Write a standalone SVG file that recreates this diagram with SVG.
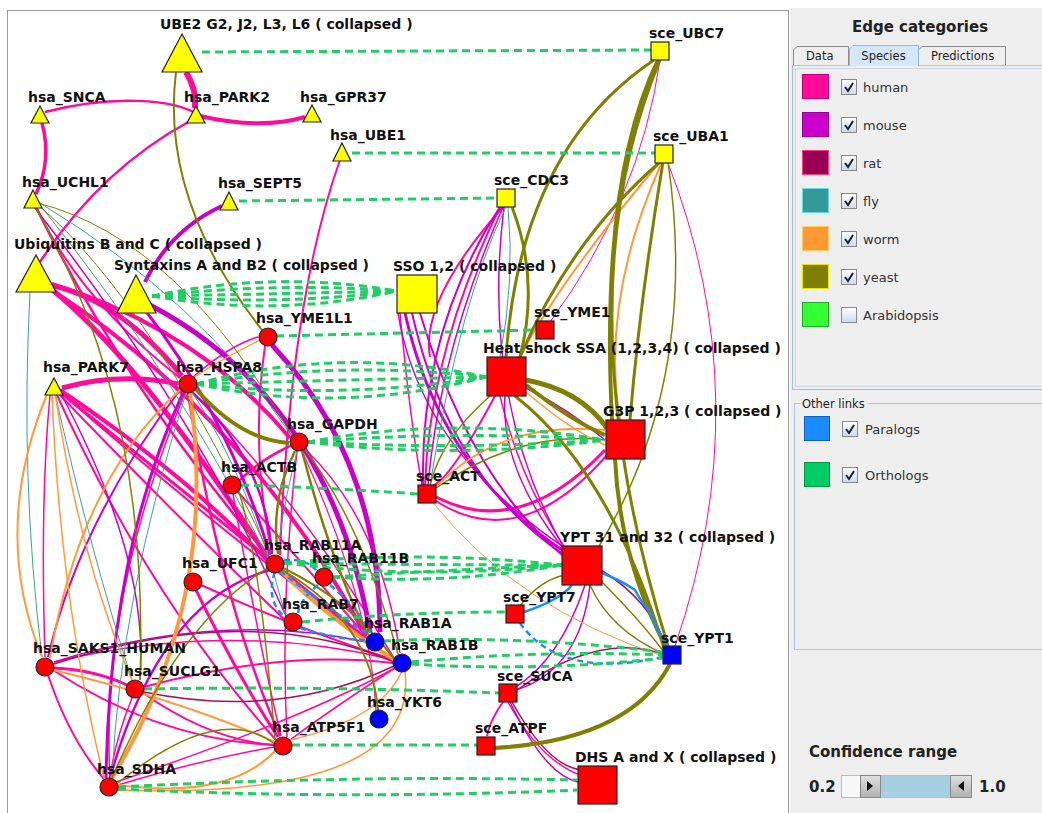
<svg xmlns="http://www.w3.org/2000/svg" width="1042" height="813" viewBox="0 0 1042 813">
<style>
.lbl{font-family:"DejaVu Sans",sans-serif;font-weight:bold;font-size:14px;fill:#111}
.e{fill:none}
.hu{stroke:#ff0a9a}.mo{stroke:#c800c8}.ra{stroke:#a0145a}.fl{stroke:#3aa0a0}.wo{stroke:#ff9a3c}.ye{stroke:#808000}
.or{fill:none;stroke:#22cc66;stroke-width:3;stroke-dasharray:8 5}
.pa{fill:none;stroke:#1a8cff;stroke-width:2.5;stroke-dasharray:6 4}
.pas{fill:none;stroke:#1a8cff;stroke-width:2.5}
.n{stroke:#222;stroke-width:1.2}
.y{fill:#ffff00}.r{fill:#ff0000}.b{fill:#0000ff}
.ui{font-family:"DejaVu Sans",sans-serif;font-size:13px;fill:#333}
.tab{font-family:"DejaVu Sans",sans-serif;font-size:11.5px;fill:#222}
.uib{font-family:"DejaVu Sans",sans-serif;font-weight:bold;font-size:15px;fill:#222}
.cb{fill:url(#cbg);stroke:#888}
.ck{fill:none;stroke:#222;stroke-width:2}
</style>
<defs>
<linearGradient id="cbg" x1="0" y1="0" x2="0" y2="1"><stop offset="0" stop-color="#ffffff"/><stop offset="1" stop-color="#c9d9ee"/></linearGradient>
<linearGradient id="thumb" x1="0" y1="0" x2="0" y2="1"><stop offset="0" stop-color="#e0e0e0"/><stop offset="1" stop-color="#b0b0b0"/></linearGradient>
</defs>
<rect x="0" y="0" width="1042" height="813" fill="#ffffff"/>
<rect x="790" y="8" width="252" height="805" fill="#eeeeee"/>
<rect x="7.5" y="10.5" width="781" height="810" fill="#ffffff" stroke="#999999"/>

<g id="connectors">
<!-- human -->
<path class="e hu" stroke-width="2.5" d="M45,112 C110,95 175,98 200,116"/>
<path class="e hu" stroke-width="4" d="M200,116 Q260,130 305,117"/>
<path class="e hu" stroke-width="6" d="M186,72 Q197,90 195,108"/>
<path class="e hu" stroke-width="2.5" d="M190,121 Q100,170 40,262"/>
<path class="e hu" stroke-width="3.5" d="M42,123 Q52,160 36,194"/>
<path class="e hu" stroke-width="2" d="M340,160 Q290,300 280,555"/>
<path class="e hu" stroke-width="2" d="M36,207 Q80,300 180,378"/>
<path class="e hu" stroke-width="2.5" d="M36,207 Q120,380 268,556"/>
<path class="e hu" stroke-width="5" d="M50,285 Q120,300 182,376"/>
<path class="e hu" stroke-width="5" d="M50,288 Q140,360 268,558"/>
<path class="e hu" stroke-width="4" d="M52,284 Q200,330 290,438"/>
<path class="e hu" stroke-width="4" d="M52,290 Q250,420 366,636"/>
<path class="e hu" stroke-width="5" d="M62,388 Q120,372 178,384"/>
<path class="e hu" stroke-width="4" d="M60,390 Q180,470 267,560"/>
<path class="e hu" stroke-width="3" d="M60,392 Q220,520 366,638"/>
<path class="e hu" stroke-width="2" d="M60,392 Q230,540 394,660"/>
<path class="e hu" stroke-width="2" d="M56,393 Q150,600 276,740"/>
<path class="e hu" stroke-width="2" d="M58,393 Q180,520 285,620"/>
<path class="e hu" stroke-width="2.5" d="M188,393 Q220,600 280,736"/>
<path class="e hu" stroke-width="1.5" d="M185,393 Q100,600 110,778"/>
<path class="e hu" stroke-width="1.5" d="M192,392 Q300,500 394,658"/>
<path class="e hu" stroke-width="1.5" d="M193,377 Q230,345 258,337"/>
<path class="e hu" stroke-width="2" d="M265,346 Q250,450 272,554"/>
<path class="e hu" stroke-width="2.5" d="M290,446 Q260,460 240,480"/>
<path class="e hu" stroke-width="1.5" d="M305,449 Q380,520 400,653"/>
<path class="e hu" stroke-width="1.2" d="M302,451 Q370,600 376,710"/>
<path class="e hu" stroke-width="2" d="M238,492 Q300,560 366,636"/>
<path class="e hu" stroke-width="1.5" d="M233,494 Q260,650 281,736"/>
<path class="e hu" stroke-width="3" d="M196,590 Q240,680 278,737"/>
<path class="e hu" stroke-width="2" d="M201,585 Q300,630 394,660"/>
<path class="e hu" stroke-width="3" d="M54,668 Q95,670 127,685"/>
<path class="e hu" stroke-width="1.5" d="M54,662 Q230,620 394,660"/>
<path class="e hu" stroke-width="2" d="M53,670 Q160,740 274,745"/>
<path class="e hu" stroke-width="2" d="M48,675 Q70,740 104,779"/>
<path class="e hu" stroke-width="2" d="M144,687 Q280,650 393,663"/>
<path class="e hu" stroke-width="2" d="M143,693 Q210,740 274,745"/>
<path class="e hu" stroke-width="1.5" d="M132,698 Q115,740 110,778"/>
<path class="e hu" stroke-width="1.5" d="M118,785 Q200,760 274,747"/>
<path class="e hu" stroke-width="1.5" d="M116,782 Q300,720 395,668"/>
<path class="e hu" stroke-width="1.5" d="M395,668 Q330,710 290,740"/>
<path class="e hu" stroke-width="1.5" d="M45,657 Q40,500 50,395"/>
<path class="e hu" stroke-width="1.5" d="M297,451 Q280,600 287,737"/>
<!-- right human -->
<path class="e hu" stroke-width="1" d="M660,60 Q640,200 550,322"/>
<path class="e hu" stroke-width="1" d="M668,163 Q760,400 675,646"/>
<path class="e hu" stroke-width="3" d="M605,450 Q520,540 436,497"/>
<path class="e hu" stroke-width="2" d="M607,455 Q520,555 436,501"/>
<path class="e hu" stroke-width="2" d="M495,396 Q450,480 432,486"/>
<path class="e hu" stroke-width="1.5" d="M400,313 Q410,420 422,485"/>
<path class="e hu" stroke-width="2" d="M500,207 Q430,350 425,485"/>
<path class="e hu" stroke-width="1.5" d="M500,396 Q520,480 565,548"/>
<path class="e hu" stroke-width="2" d="M503,207 Q420,300 430,357"/>
<path class="e hu" stroke-width="1.5" d="M508,702 Q540,760 580,775"/>
<path class="e hu" stroke-width="2" d="M503,702 Q490,720 487,736"/>
<!-- mouse -->
<path class="e mo" stroke-width="4" d="M222,206 Q170,230 145,282"/>
<path class="e mo" stroke-width="5" d="M150,305 Q330,400 370,632"/>
<path class="e mo" stroke-width="3" d="M145,310 Q230,420 270,555"/>
<path class="e mo" stroke-width="5" d="M272,345 Q380,460 380,632"/>
<path class="e mo" stroke-width="3" d="M183,393 Q110,550 106,778"/>
<path class="e mo" stroke-width="2" d="M180,390 Q80,520 48,657"/>
<path class="e mo" stroke-width="2.5" d="M192,392 Q265,460 272,554"/>
<path class="e mo" stroke-width="2.5" d="M110,778 Q160,600 270,570"/>
<path class="e mo" stroke-width="1.5" d="M54,662 Q220,610 366,642"/>
<path class="e mo" stroke-width="1.5" d="M60,392 Q150,560 140,680"/>
<path class="e mo" stroke-width="1.5" d="M35,208 Q200,420 285,614"/>
<path class="e mo" stroke-width="3" d="M405,313 Q440,470 565,552"/>
<path class="e mo" stroke-width="2" d="M412,313 Q450,480 566,556"/>
<path class="e mo" stroke-width="2" d="M420,313 Q470,480 568,560"/>
<path class="e mo" stroke-width="1.5" d="M398,313 Q420,450 565,548"/>
<path class="e mo" stroke-width="2" d="M500,207 Q420,330 423,485"/>
<path class="e mo" stroke-width="1.5" d="M503,207 Q440,350 428,485"/>
<path class="e mo" stroke-width="1.5" d="M504,207 Q480,400 565,550"/>
<path class="e mo" stroke-width="1.5" d="M585,585 Q560,660 514,688"/>
<path class="e mo" stroke-width="1.5" d="M590,585 Q580,670 516,690"/>
<path class="e mo" stroke-width="1.5" d="M510,702 Q545,775 578,782"/>
<path class="e mo" stroke-width="1.5" d="M526,388 Q570,410 605,440"/>
<path class="e mo" stroke-width="1.5" d="M505,396 Q500,470 566,552"/>
<!-- rat -->
<path class="e ra" stroke-width="1.5" d="M54,664 Q250,600 394,662"/>
<path class="e ra" stroke-width="1.5" d="M144,692 Q280,720 394,666"/>
<path class="e ra" stroke-width="1.5" d="M517,690 Q600,630 665,655"/>
<path class="e ra" stroke-width="1.5" d="M601,570 Q650,600 667,648"/>
<path class="e ra" stroke-width="1.5" d="M512,702 Q550,770 585,770"/>
<!-- fly -->
<path class="e fl" stroke-width="1" d="M40,205 Q180,380 268,558"/>
<path class="e fl" stroke-width="1" d="M40,203 Q200,300 292,436"/>
<path class="e fl" stroke-width="1" d="M186,393 Q120,600 112,778"/>
<path class="e fl" stroke-width="1" d="M55,393 Q90,550 132,680"/>
<path class="e fl" stroke-width="1" d="M297,451 Q280,520 278,554"/>
<path class="e fl" stroke-width="1" d="M506,207 Q460,300 430,485"/>
<path class="e fl" stroke-width="1" d="M508,207 Q515,280 500,357"/>
<path class="e fl" stroke-width="1" d="M192,392 Q250,480 285,614"/>
<path class="e fl" stroke-width="1" d="M30,292 Q20,480 42,657"/>
<!-- worm -->
<path class="e wo" stroke-width="2" d="M48,392 Q-10,530 42,657"/>
<path class="e wo" stroke-width="1.5" d="M52,393 Q60,600 104,778"/>
<path class="e wo" stroke-width="1.5" d="M55,393 Q80,560 132,680"/>
<path class="e wo" stroke-width="4" d="M190,393 Q220,600 112,778"/>
<path class="e wo" stroke-width="2" d="M180,390 Q80,480 50,658"/>
<path class="e wo" stroke-width="1.5" d="M260,340 Q220,360 193,378"/>
<path class="e wo" stroke-width="4" d="M280,570 Q330,620 395,660"/>
<path class="e wo" stroke-width="2" d="M53,670 Q180,700 275,742"/>
<path class="e wo" stroke-width="2" d="M118,785 Q230,800 276,750"/>
<path class="e wo" stroke-width="1.5" d="M290,740 Q380,720 402,671"/>
<path class="e wo" stroke-width="1.5" d="M118,790 Q420,800 405,671"/>
<path class="e wo" stroke-width="2" d="M660,162 Q560,280 520,357"/>
<path class="e wo" stroke-width="2" d="M662,162 Q600,300 620,420"/>
<path class="e wo" stroke-width="2" d="M605,430 Q500,420 435,488"/>
<path class="e wo" stroke-width="1" d="M433,503 Q520,610 663,656"/>
<path class="e wo" stroke-width="1.5" d="M526,392 Q570,430 605,445"/>
<!-- yeast -->
<path class="e ye" stroke-width="2" d="M176,72 Q160,200 262,330"/>
<path class="e ye" stroke-width="1" d="M38,205 Q150,300 270,555"/>
<path class="e ye" stroke-width="1" d="M38,203 Q180,240 292,436"/>
<path class="e ye" stroke-width="1.5" d="M35,207 Q150,400 140,680"/>
<path class="e ye" stroke-width="4" d="M195,388 Q240,440 289,443"/>
<path class="e ye" stroke-width="2.5" d="M295,451 Q270,500 278,554"/>
<path class="e ye" stroke-width="2.5" d="M302,451 Q330,560 368,635"/>
<path class="e ye" stroke-width="1.5" d="M305,450 Q360,520 398,654"/>
<path class="e ye" stroke-width="2" d="M282,570 Q370,620 378,710"/>
<path class="e ye" stroke-width="2" d="M283,568 Q350,600 395,660"/>
<path class="e ye" stroke-width="1.5" d="M118,783 Q220,700 276,745"/>
<path class="e ye" stroke-width="1.5" d="M112,778 Q180,620 268,568"/>
<path class="e ye" stroke-width="1.5" d="M239,492 Q260,560 275,740"/>
<path class="e ye" stroke-width="3" d="M654,60 Q520,150 506,357"/>
<path class="e ye" stroke-width="4" d="M658,60 Q600,180 612,420"/>
<path class="e ye" stroke-width="3" d="M660,60 Q560,300 668,646"/>
<path class="e ye" stroke-width="3" d="M660,162 Q570,240 520,357"/>
<path class="e ye" stroke-width="3" d="M663,162 Q640,300 630,420"/>
<path class="e ye" stroke-width="1.5" d="M668,162 Q700,380 598,548"/>
<path class="e ye" stroke-width="3" d="M512,207 Q540,280 520,357"/>
<path class="e ye" stroke-width="5" d="M526,380 Q580,390 607,428"/>
<path class="e ye" stroke-width="4" d="M526,385 Q570,420 605,435"/>
<path class="e ye" stroke-width="4" d="M615,459 Q620,560 666,647"/>
<path class="e ye" stroke-width="3" d="M515,396 Q610,470 664,648"/>
<path class="e ye" stroke-width="1.5" d="M600,580 Q640,620 664,652"/>
<path class="e ye" stroke-width="1.5" d="M520,606 Q540,580 565,575"/>
<path class="e ye" stroke-width="4" d="M670,664 Q630,740 495,748"/>
<path class="e ye" stroke-width="1.5" d="M490,396 Q440,440 430,486"/>
<path class="e ye" stroke-width="1.5" d="M605,440 Q520,430 436,488"/>
<path class="e ye" stroke-width="1.5" d="M590,585 Q610,630 664,654"/>
<!-- paralogs -->
<path class="pa" d="M275,572 Q265,600 285,617"/>
<path class="pa" d="M284,560 Q305,558 316,570"/>
<path class="pa" d="M318,585 Q300,600 298,613"/>
<path class="pa" d="M300,628 Q340,640 366,640"/>
<path class="pa" d="M330,585 Q360,610 370,633"/>
<path class="pa" d="M280,571 Q330,610 368,634"/>
<path class="pas" d="M602,573 Q620,580 635,590 Q640,600 650,612 Q655,628 668,646"/>
<path class="pas" d="M524,612 Q560,600 572,585"/>
<path class="pa" d="M520,623 Q560,680 663,657"/>
<!-- orthologs -->
<path class="or" d="M202,52 L651,50"/>
<path class="or" d="M352,153 L655,153"/>
<path class="or" d="M239,201 L497,198"/>
<path class="or" d="M152,296 Q277,270 397,291"/>
<path class="or" d="M152,296 Q277,282 397,291"/>
<path class="or" d="M152,296 Q277,294 397,291"/>
<path class="or" d="M152,296 Q277,306 397,291"/>
<path class="or" d="M152,296 Q277,318 397,291"/>
<path class="or" d="M276,336 L536,330"/>
<path class="or" d="M196,384 Q340,345 486,377"/>
<path class="or" d="M196,384 Q340,360 486,377"/>
<path class="or" d="M196,384 Q340,380 486,377"/>
<path class="or" d="M196,384 Q340,400 486,377"/>
<path class="or" d="M196,384 Q340,415 486,377"/>
<path class="or" d="M307,442 Q456,415 605,440"/>
<path class="or" d="M307,442 Q456,430 605,440"/>
<path class="or" d="M307,442 Q456,450 605,440"/>
<path class="or" d="M307,442 Q456,460 605,440"/>
<path class="or" d="M241,485 Q330,488 418,494"/>
<path class="or" d="M284,563 Q420,550 562,565"/>
<path class="or" d="M284,563 Q420,565 562,565"/>
<path class="or" d="M284,563 Q420,580 562,565"/>
<path class="or" d="M332,577 Q450,570 562,565"/>
<path class="or" d="M332,577 Q450,585 562,565"/>
<path class="or" d="M302,622 Q400,612 506,612"/>
<path class="or" d="M383,641 Q520,635 663,652"/>
<path class="or" d="M411,662 Q540,650 663,655"/>
<path class="or" d="M411,664 Q540,672 663,658"/>
<path class="or" d="M144,689 Q320,686 499,693"/>
<path class="or" d="M292,745 L477,745"/>
<path class="or" d="M118,787 Q350,775 577,780"/>
<path class="or" d="M118,789 Q350,800 577,790"/>
</g>

<g id="n-ube2"><polygon class="n y" points="182,34 162,72 202,72"/><text class="lbl" x="160" y="29">UBE2 G2, J2, L3, L6 ( collapsed )</text></g>
<g id="n-snca"><polygon class="n y" points="40,106 31,123 49,123"/><text class="lbl" x="28" y="102">hsa_SNCA</text></g>
<g id="n-park2"><polygon class="n y" points="196,106 187,123 205,123"/><text class="lbl" x="184" y="102">hsa_PARK2</text></g>
<g id="n-gpr37"><polygon class="n y" points="312,105 303,122 321,122"/><text class="lbl" x="300" y="102">hsa_GPR37</text></g>
<g id="n-ube1"><polygon class="n y" points="342,143 333,161 351,161"/><text class="lbl" x="330" y="140">hsa_UBE1</text></g>
<g id="n-uchl1"><polygon class="n y" points="33,190 24,208 42,208"/><text class="lbl" x="22" y="187">hsa_UCHL1</text></g>
<g id="n-sept5"><polygon class="n y" points="229,192 220,210 238,210"/><text class="lbl" x="218" y="188">hsa_SEPT5</text></g>
<g id="n-ubi"><polygon class="n y" points="36,255 16,292 56,292"/><text class="lbl" x="14" y="249">Ubiquitins B and C ( collapsed )</text></g>
<g id="n-syn"><polygon class="n y" points="136,275 117,313 156,313"/><text class="lbl" x="114" y="270">Syntaxins A and B2 ( collapsed )</text></g>
<g id="n-sso"><rect class="n y" x="397" y="275" width="40" height="38"/><text class="lbl" x="393" y="271">SSO 1,2 ( collapsed )</text></g>
<g id="n-ubc7"><rect class="n y" x="651" y="42" width="18" height="18"/><text class="lbl" x="649" y="38">sce_UBC7</text></g>
<g id="n-uba1"><rect class="n y" x="655" y="145" width="18" height="18"/><text class="lbl" x="653" y="141">sce_UBA1</text></g>
<g id="n-cdc3"><rect class="n y" x="497" y="189" width="18" height="18"/><text class="lbl" x="494" y="185">sce_CDC3</text></g>
<g id="n-yme1"><rect class="n r" x="536" y="321" width="18" height="18"/><text class="lbl" x="534" y="317">sce_YME1</text></g>
<g id="n-yme1l1"><circle class="n r" cx="268" cy="337" r="9"/><text class="lbl" x="256" y="323">hsa_YME1L1</text></g>
<g id="n-park7"><polygon class="n y" points="54,378 45,395 63,395"/><text class="lbl" x="43" y="372">hsa_PARK7</text></g>
<g id="n-hspa8"><circle class="n r" cx="188" cy="384" r="9"/><text class="lbl" x="176" y="372">hsa_HSPA8</text></g>
<g id="n-hs"><rect class="n r" x="487" y="357" width="39" height="39"/><text class="lbl" x="483" y="353">Heat shock SSA (1,2,3,4) ( collapsed )</text></g>
<g id="n-g3p"><rect class="n r" x="606" y="420" width="39" height="39"/><text class="lbl" x="603" y="416">G3P 1,2,3 ( collapsed )</text></g>
<g id="n-gapdh"><circle class="n r" cx="299" cy="442" r="9"/><text class="lbl" x="287" y="429">hsa_GAPDH</text></g>
<g id="n-actb"><circle class="n r" cx="232" cy="485" r="9"/><text class="lbl" x="221" y="472">hsa_ACTB</text></g>
<g id="n-act"><rect class="n r" x="418" y="485" width="18" height="18"/><text class="lbl" x="416" y="481">sce_ACT</text></g>
<g id="n-ypt31"><rect class="n r" x="562" y="546" width="40" height="39"/><text class="lbl" x="560" y="542">YPT 31 and 32 ( collapsed )</text></g>
<g id="n-rab11a"><circle class="n r" cx="275" cy="564" r="9"/><text class="lbl" x="264" y="550">hsa_RAB11A</text></g>
<g id="n-rab11b"><circle class="n r" cx="324" cy="577" r="9"/><text class="lbl" x="312" y="563">hsa_RAB11B</text></g>
<g id="n-ufc1"><circle class="n r" cx="193" cy="582" r="9"/><text class="lbl" x="182" y="568">hsa_UFC1</text></g>
<g id="n-ypt7"><rect class="n r" x="506" y="605" width="18" height="18"/><text class="lbl" x="503" y="602">sce_YPT7</text></g>
<g id="n-rab7"><circle class="n r" cx="293" cy="622" r="9"/><text class="lbl" x="282" y="609">hsa_RAB7</text></g>
<g id="n-rab1a"><circle class="n b" cx="375" cy="642" r="9"/><text class="lbl" x="364" y="628">hsa_RAB1A</text></g>
<g id="n-rab1b"><circle class="n b" cx="402" cy="663" r="9"/><text class="lbl" x="391" y="650">hsa_RAB1B</text></g>
<g id="n-ypt1"><rect class="n b" x="663" y="646" width="18" height="18"/><text class="lbl" x="661" y="643">sce_YPT1</text></g>
<g id="n-saks1"><circle class="n r" cx="45" cy="667" r="9"/><text class="lbl" x="33" y="653">hsa_SAKS1_HUMAN</text></g>
<g id="n-suclg1"><circle class="n r" cx="135" cy="689" r="9"/><text class="lbl" x="124" y="676">hsa_SUCLG1</text></g>
<g id="n-suca"><rect class="n r" x="499" y="684" width="18" height="18"/><text class="lbl" x="497" y="681">sce_SUCA</text></g>
<g id="n-ykt6"><circle class="n b" cx="379" cy="719" r="9"/><text class="lbl" x="367" y="707">hsa_YKT6</text></g>
<g id="n-atpf"><rect class="n r" x="477" y="737" width="18" height="18"/><text class="lbl" x="475" y="733">sce_ATPF</text></g>
<g id="n-atp5f1"><circle class="n r" cx="283" cy="746" r="9"/><text class="lbl" x="272" y="732">hsa_ATP5F1</text></g>
<g id="n-dhs"><rect class="n r" x="578" y="766" width="39" height="38"/><text class="lbl" x="575" y="762">DHS A and X ( collapsed )</text></g>
<g id="n-sdha"><circle class="n r" cx="109" cy="787" r="9"/><text class="lbl" x="97" y="774">hsa_SDHA</text></g>

<g id="panel">
<text class="uib" x="920" y="32" text-anchor="middle">Edge categories</text>
<rect x="792.5" y="65.5" width="260" height="324" fill="#eeeeee" stroke="#9ec2e6"/>
<rect x="795.5" y="68.5" width="260" height="318" fill="none" stroke="#c9d6e3"/>
<path d="M793.5,65 L793.5,50 L797,46.5 L848.5,46.5 L848.5,65" fill="#eeeeee" stroke="#8a8a8a"/>
<text class="tab" x="806" y="60">Data</text>
<path d="M918.5,65 L918.5,50 L922,46.5 L1005.5,46.5 L1005.5,65" fill="#eeeeee" stroke="#8a8a8a"/>
<text class="tab" x="931" y="60">Predictions</text>
<path d="M849.5,66 L849.5,49 L853,45.5 L918.5,45.5 L918.5,66" fill="#d3e7f8" stroke="#8fb8de"/>
<text class="tab" x="883.5" y="60" text-anchor="middle">Species</text>

<rect x="802.5" y="74.5" width="26" height="24" fill="#ff0a9a" stroke="#c00070"/>
<rect x="841.5" y="79.5" width="15" height="15" class="cb"/><path class="ck" d="M845,87 L848,91 L853,83"/>
<text class="ui" x="863" y="92">human</text>
<rect x="802.5" y="112.5" width="26" height="24" fill="#cc00cc" stroke="#990099"/>
<rect x="841.5" y="117.5" width="15" height="15" class="cb"/><path class="ck" d="M845,125 L848,129 L853,121"/>
<text class="ui" x="863" y="130">mouse</text>
<rect x="802.5" y="150.5" width="26" height="24" fill="#990055" stroke="#ff4080"/>
<rect x="841.5" y="155.5" width="15" height="15" class="cb"/><path class="ck" d="M845,163 L848,167 L853,159"/>
<text class="ui" x="863" y="168">rat</text>
<rect x="802.5" y="188.5" width="26" height="24" fill="#339999" stroke="#66dddd"/>
<rect x="841.5" y="193.5" width="15" height="15" class="cb"/><path class="ck" d="M845,201 L848,205 L853,197"/>
<text class="ui" x="863" y="206">fly</text>
<rect x="802.5" y="226.5" width="26" height="24" fill="#ff9933" stroke="#ffcc66"/>
<rect x="841.5" y="231.5" width="15" height="15" class="cb"/><path class="ck" d="M845,239 L848,243 L853,235"/>
<text class="ui" x="863" y="244">worm</text>
<rect x="802.5" y="264.5" width="26" height="24" fill="#808000" stroke="#e6e600"/>
<rect x="841.5" y="269.5" width="15" height="15" class="cb"/><path class="ck" d="M845,277 L848,281 L853,273"/>
<text class="ui" x="863" y="282">yeast</text>
<rect x="802.5" y="302.5" width="26" height="24" fill="#33ff33" stroke="#22aa22"/>
<rect x="841.5" y="307.5" width="15" height="15" class="cb"/>
<text class="ui" x="863" y="320">Arabidopsis</text>

<rect x="794.5" y="403.5" width="260" height="246" fill="none" stroke="#a8c8e8"/>
<rect x="800" y="398" width="68" height="12" fill="#eeeeee"/>
<text class="tab" x="802" y="408" font-size="12px">Other links</text>
<rect x="804.5" y="416.5" width="25" height="24" fill="#1a8cff" stroke="#0a60c0"/>
<rect x="842.5" y="421.5" width="15" height="15" class="cb"/><path class="ck" d="M846,429 L849,433 L854,425"/>
<text class="ui" x="865" y="434">Paralogs</text>
<rect x="804.5" y="462.5" width="25" height="24" fill="#00cc66" stroke="#009944"/>
<rect x="842.5" y="467.5" width="15" height="15" class="cb"/><path class="ck" d="M846,475 L849,479 L854,471"/>
<text class="ui" x="865" y="480">Orthologs</text>

<text class="uib" x="809" y="757" font-size="14px">Confidence range</text>
<text class="uib" x="809" y="792" font-size="14px">0.2</text>
<rect x="841.5" y="775.5" width="130" height="22" fill="#f7f7f7" stroke="#bbbbbb"/>
<rect x="880" y="776" width="70" height="21" fill="#a6cfe0"/>
<rect x="860.5" y="775.5" width="20" height="22" fill="url(#thumb)" stroke="#888"/>
<polygon points="867,781 867,791 873,786" fill="#111"/>
<rect x="950.5" y="775.5" width="21" height="22" fill="url(#thumb)" stroke="#888"/>
<polygon points="964,781 964,791 958,786" fill="#111"/>
<text class="uib" x="979" y="792" font-size="14px">1.0</text>
</g>
</svg>
